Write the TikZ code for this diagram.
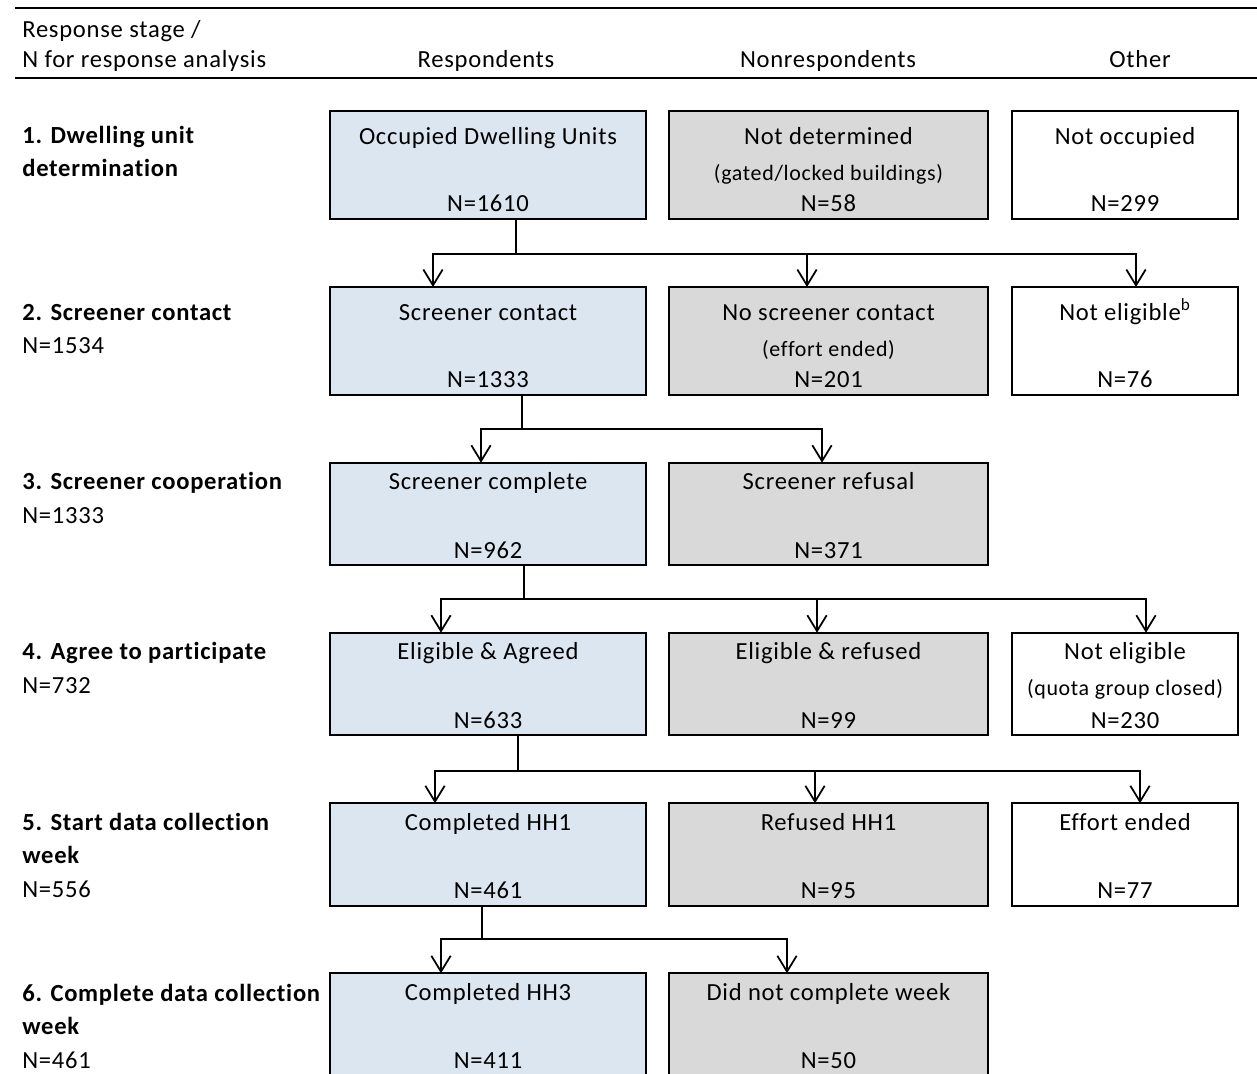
\documentclass[tikz,border=0pt]{standalone}
\usepackage{fontspec}
\setmainfont{Carlito}[LetterSpace=3,Ligatures=NoCommon]
\usetikzlibrary{arrows.meta,calc}
\definecolor{respColor}{HTML}{DCE6F1}
\definecolor{nonrespColor}{HTML}{D9D9D9}
\tikzset{
	stage/.style={draw, line width=1pt, inner sep=0, outer sep=0},
	resp/.style={stage, fill=respColor, minimum width=6.32cm},
	nonresp/.style={stage, fill=nonrespColor, minimum width=6.38cm},
	other/.style={stage, fill=white, minimum width=4.52cm},
	tallrow/.style={minimum height=2.16cm},
	shortrow/.style={minimum height=2.05cm},
	boxtext/.style={anchor=base, inner sep=0, font=\fontsize{14pt}{16pt}\selectfont},
	smalltext/.style={anchor=base, inner sep=0, font=\fontsize{12.5pt}{14pt}\selectfont},
	stagelabel/.style={anchor=base west, inner sep=0, align=left, font=\fontsize{14pt}{18.8pt}\selectfont},
	headtext/.style={anchor=base, inner sep=0, font=\fontsize{14pt}{17.6pt}\selectfont},
	flow/.style={line width=1pt, -{Straight Barb[length=9pt,width=11pt]}},
	stem/.style={line width=1pt},
	rulerline/.style={line width=1.6pt}
}
% box with its first line and its N
\newcommand{\stagebox}[6]{%
	\node[#2] (#1) at #3 {};
	\node[boxtext] (#1-top) at ($(#1.north)+(0,#4)$) {#5};
	\node[boxtext] (#1-n) at ($(#1.south)+(0,-7)$) {#6};
}
\begin{document}
\begin{tikzpicture}[x=0.02cm, y=-0.02cm]
	\useasboundingbox (0,0) rectangle (1257,1074);
	% header (base = last line)
	\draw[rulerline] (15,8) -- (1257,8);
	\draw[rulerline] (15,78) -- (1257,78);
	\node[headtext, anchor=base west, align=left] (hstage) at (22,68) {Response stage /\\N for response analysis};
	\node[headtext] (hresp) at (486,68) {Respondents};
	\node[headtext] (hnonresp) at (828,68) {Nonrespondents};
	\node[headtext] (hother) at (1140,68) {Other};
	% stages
	\node[stagelabel] (s1) at (22,177) {\textbf{1. Dwelling unit}\\\textbf{determination}};
	\node[stagelabel] (s2) at (22,354) {\textbf{2. Screener contact}\\N=1534};
	\node[stagelabel] (s3) at (22,523) {\textbf{3. Screener cooperation}\\N=1333};
	\node[stagelabel] (s4) at (22,693) {\textbf{4. Agree to participate}\\N=732};
	\node[stagelabel] (s5) at (22,897) {\textbf{5. Start data collection}\\\textbf{week}\\N=556};
	\node[stagelabel] (s6) at (22,1068) {\textbf{6. Complete data collection}\\\textbf{week}\\N=461};
	% row 1
	\stagebox{r1a}{resp,tallrow}{(488,165)}{33}{Occupied Dwelling Units}{N=1610}
	\stagebox{r1b}{nonresp,tallrow}{(828.5,165)}{33}{Not determined}{N=58}
	\node[smalltext] (r1b-mid) at ($(r1b.north)+(0,69)$) {(gated/locked buildings)};
	\stagebox{r1c}{other,tallrow}{(1125,165)}{33}{Not occupied}{N=299}
	% row 2
	\stagebox{r2a}{resp,tallrow}{(488,341)}{33}{Screener contact}{N=1333}
	\stagebox{r2b}{nonresp,tallrow}{(828.5,341)}{33}{No screener contact}{N=201}
	\node[smalltext] (r2b-mid) at ($(r2b.north)+(0,69)$) {(effort ended)};
	\stagebox{r2c}{other,tallrow}{(1125,341)}{33}{Not eligible\textsuperscript{b}}{N=76}
	% row 3
	\stagebox{r3a}{resp,shortrow}{(488,514)}{27}{Screener complete}{N=962}
	\stagebox{r3b}{nonresp,shortrow}{(828.5,514)}{27}{Screener refusal}{N=371}
	% row 4
	\stagebox{r4a}{resp,shortrow}{(488,684)}{27}{Eligible \& Agreed}{N=633}
	\stagebox{r4b}{nonresp,shortrow}{(828.5,684)}{27}{Eligible \& refused}{N=99}
	\stagebox{r4c}{other,shortrow}{(1125,684)}{27}{Not eligible}{N=230}
	\node[smalltext] (r4c-mid) at ($(r4c.north)+(0,63)$) {(quota group closed)};
	% row 5
	\stagebox{r5a}{resp,shortrow}{(488,854.5)}{27}{Completed HH1}{N=461}
	\stagebox{r5b}{nonresp,shortrow}{(828.5,854.5)}{27}{Refused HH1}{N=95}
	\stagebox{r5c}{other,shortrow}{(1125,854.5)}{27}{Effort ended}{N=77}
	% row 6
	\stagebox{r6a}{resp,shortrow}{(488,1024.5)}{27}{Completed HH3}{N=411}
	\stagebox{r6b}{nonresp,shortrow}{(828.5,1024.5)}{27}{Did not complete week}{N=50}
	% flows
	\coordinate (j1) at (516,254);
	\draw[stem] (r1a.south -| j1) -- (j1);
	\draw[flow] (j1) -| ($(r2a.north)+(-55,0)$);
	\draw[flow] (j1) -| ($(r2b.north)+(-21.5,0)$);
	\draw[flow] (j1) -| ($(r2c.north)+(11,0)$);
	\coordinate (j2) at (522,429);
	\draw[stem] (r2a.south -| j2) -- (j2);
	\draw[flow] (j2) -| ($(r3a.north)+(-7,0)$);
	\draw[flow] (j2) -| ($(r3b.north)+(-6.5,0)$);
	\coordinate (j3) at (524,599);
	\draw[stem] (r3a.south -| j3) -- (j3);
	\draw[flow] (j3) -| ($(r4a.north)+(-47,0)$);
	\draw[flow] (j3) -| ($(r4b.north)+(-11.5,0)$);
	\draw[flow] (j3) -| ($(r4c.north)+(21,0)$);
	\coordinate (j4) at (518,771);
	\draw[stem] (r4a.south -| j4) -- (j4);
	\draw[flow] (j4) -| ($(r5a.north)+(-53,0)$);
	\draw[flow] (j4) -| ($(r5b.north)+(-13.5,0)$);
	\draw[flow] (j4) -| ($(r5c.north)+(15,0)$);
	\coordinate (j5) at (482,939);
	\draw[stem] (r5a.south -| j5) -- (j5);
	\draw[flow] (j5) -| ($(r6a.north)+(-47,0)$);
	\draw[flow] (j5) -| ($(r6b.north)+(-41.5,0)$);
\end{tikzpicture}
\end{document}
